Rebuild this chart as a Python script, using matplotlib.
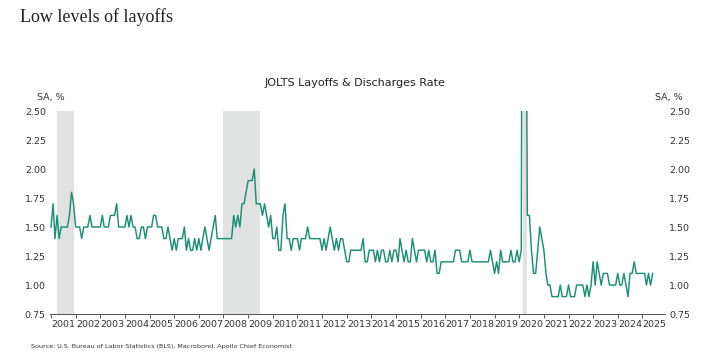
import pandas as pd
import matplotlib
matplotlib.use("Agg")
import matplotlib.pyplot as plt
from matplotlib.ticker import FormatStrFormatter, MultipleLocator

# JOLTS layoffs & discharges rate, SA %, monthly from Jan 2001
layoffs_rate = [
    1.5, 1.7, 1.4, 1.6, 1.4, 1.5, 1.5, 1.5, 1.5, 1.6, 1.8, 1.7,  # 2001
    1.5, 1.5, 1.5, 1.4, 1.5, 1.5, 1.5, 1.6, 1.5, 1.5, 1.5, 1.5,  # 2002
    1.5, 1.6, 1.5, 1.5, 1.5, 1.6, 1.6, 1.6, 1.7, 1.5, 1.5, 1.5,  # 2003
    1.5, 1.6, 1.5, 1.6, 1.5, 1.5, 1.4, 1.4, 1.5, 1.5, 1.4, 1.5,  # 2004
    1.5, 1.5, 1.6, 1.6, 1.5, 1.5, 1.5, 1.4, 1.4, 1.5, 1.4, 1.3,  # 2005
    1.4, 1.3, 1.4, 1.4, 1.4, 1.5, 1.3, 1.4, 1.3, 1.3, 1.4, 1.3,  # 2006
    1.4, 1.3, 1.4, 1.5, 1.4, 1.3, 1.4, 1.5, 1.6, 1.4, 1.4, 1.4,  # 2007
    1.4, 1.4, 1.4, 1.4, 1.4, 1.6, 1.5, 1.6, 1.5, 1.7, 1.7, 1.8,  # 2008
    1.9, 1.9, 1.9, 2.0, 1.7, 1.7, 1.7, 1.6, 1.7, 1.6, 1.5, 1.6,  # 2009
    1.4, 1.4, 1.5, 1.3, 1.3, 1.6, 1.7, 1.4, 1.4, 1.3, 1.4, 1.4,  # 2010
    1.4, 1.3, 1.4, 1.4, 1.4, 1.5, 1.4, 1.4, 1.4, 1.4, 1.4, 1.4,  # 2011
    1.3, 1.4, 1.3, 1.4, 1.5, 1.4, 1.3, 1.4, 1.3, 1.4, 1.4, 1.3,  # 2012
    1.2, 1.2, 1.3, 1.3, 1.3, 1.3, 1.3, 1.3, 1.4, 1.2, 1.2, 1.3,  # 2013
    1.3, 1.3, 1.2, 1.3, 1.2, 1.3, 1.3, 1.2, 1.2, 1.3, 1.2, 1.3,  # 2014
    1.3, 1.2, 1.4, 1.3, 1.2, 1.3, 1.2, 1.2, 1.4, 1.3, 1.2, 1.3,  # 2015
    1.3, 1.3, 1.3, 1.2, 1.3, 1.2, 1.2, 1.3, 1.1, 1.1, 1.2, 1.2,  # 2016
    1.2, 1.2, 1.2, 1.2, 1.2, 1.3, 1.3, 1.3, 1.2, 1.2, 1.2, 1.2,  # 2017
    1.3, 1.2, 1.2, 1.2, 1.2, 1.2, 1.2, 1.2, 1.2, 1.2, 1.3, 1.2,  # 2018
    1.1, 1.2, 1.1, 1.3, 1.2, 1.2, 1.2, 1.2, 1.3, 1.2, 1.2, 1.3,  # 2019
    1.2, 1.3, 7.5, 5.1, 1.6, 1.6, 1.3, 1.1, 1.1, 1.3, 1.5, 1.4,  # 2020
    1.3, 1.1, 1.0, 1.0, 0.9, 0.9, 0.9, 0.9, 1.0, 0.9, 0.9, 0.9,  # 2021
    1.0, 0.9, 0.9, 0.9, 1.0, 1.0, 1.0, 1.0, 0.9, 1.0, 0.9, 1.0,  # 2022
    1.2, 1.0, 1.2, 1.1, 1.0, 1.1, 1.1, 1.1, 1.0, 1.0, 1.0, 1.0,  # 2023
    1.1, 1.0, 1.0, 1.1, 1.0, 0.9, 1.1, 1.1, 1.2, 1.1, 1.1, 1.1,  # 2024
    1.1, 1.1, 1.0, 1.1, 1.0, 1.1,                                # 2025
]
dates = pd.date_range("2001-01-01", periods=len(layoffs_rate), freq="MS")

# NBER recessions (shaded)
rec_start = ["2001-04-01", "2008-01-01", "2020-03-01"]
rec_end = ["2001-12-01", "2009-07-01", "2020-05-01"]

years = list(range(2001, 2026))

line_col = "#1a8f74"
txt_col = "#333333"

fig = plt.figure(figsize=(7.1, 3.57), dpi=100)
ax = fig.add_axes([0.0704, 0.1204, 0.8662, 0.5686])

for s, e in zip(rec_start, rec_end):
    ax.axvspan(pd.Timestamp(s), pd.Timestamp(e), color="#e1e2e2", lw=0, zorder=0)

ax.plot(dates, layoffs_rate, color=line_col, lw=1.05, zorder=3)

ax.set_ylim(0.75, 2.5)
ax.set_xlim(pd.Timestamp("2000-12-17"), pd.Timestamp("2025-12-01"))

ax.yaxis.set_major_locator(MultipleLocator(0.25))
ax.yaxis.set_major_formatter(FormatStrFormatter("%.2f"))
ax.tick_params(axis="y", length=0, labelsize=6.8, labelcolor=txt_col, pad=3)

# year ticks at Jan, labels at mid year
ax.set_xticks([pd.Timestamp(f"{y}-01-01") for y in years])
ax.set_xticklabels([])
ax.set_xticks([pd.Timestamp(f"{y}-07-01") for y in years], minor=True)
ax.set_xticklabels([str(y) for y in years], minor=True)
ax.tick_params(axis="x", which="major", length=3, color="#555555", width=0.7)
ax.tick_params(axis="x", which="minor", length=0, labelsize=6.8,
               labelcolor=txt_col, pad=4)

for side in ["top", "left", "right"]:
    ax.spines[side].set_visible(False)
ax.spines["bottom"].set_color("#555555")
ax.spines["bottom"].set_linewidth(0.7)

ax2 = ax.twinx()
ax2.set_ylim(ax.get_ylim())
ax2.yaxis.set_major_locator(MultipleLocator(0.25))
ax2.yaxis.set_major_formatter(FormatStrFormatter("%.2f"))
ax2.tick_params(axis="y", length=0, labelsize=6.8, labelcolor=txt_col, pad=3)
for side in ["top", "left", "right", "bottom"]:
    ax2.spines[side].set_visible(False)

fig.text(0.028, 0.952, "Low levels of layoffs", fontsize=13,
         family="Liberation Serif", color="#222222", va="center")
fig.text(0.5, 0.767, "JOLTS Layoffs & Discharges Rate", fontsize=8,
         color="#222222", ha="center", va="center")
fig.text(0.052, 0.727, "SA, %", fontsize=6.8, color=txt_col, va="center")
fig.text(0.922, 0.727, "SA, %", fontsize=6.8, color=txt_col, va="center")
fig.text(0.043, 0.03, "Source: U.S. Bureau of Labor Statistics (BLS), Macrobond, Apollo Chief Economist",
         fontsize=4.6, color=txt_col, va="center")

fig.savefig("out.png", dpi=100)
